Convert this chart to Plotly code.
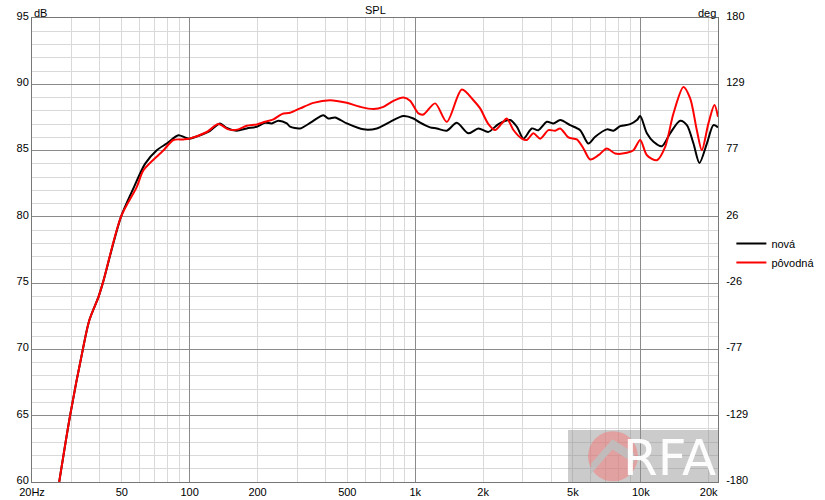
import math
import plotly.graph_objects as go

# ---- data ----
freq_nova = [26.4, 29.5, 33.6, 35.9, 39.4, 41.2, 49.6, 56.7, 63.4, 71.5, 79.1, 89.1, 95.4, 99.7,
             111.2, 123.1, 136.4, 146.0, 161.7, 179.2, 198.4, 216.0, 231.2, 247.3, 269.6, 278.8,
             308.8, 348.0, 391.6, 412.1, 441.3, 497.1, 589.1, 675.6, 773.9, 886.6, 981.9, 1051.6,
             1164.1, 1246.8, 1380.4, 1529.0, 1721.3, 1906.7, 2111.2, 2338.6, 2635.4, 2822.1,
             3018.8, 3289.0, 3518.4, 3834.3, 4101.8, 4392.9, 4863.7, 5386.8, 5862, 6280, 7074,
             7567, 8104, 8974, 9614, 9941, 10645, 11386, 12405, 13496, 14946, 16010, 17126,
             18205, 19633, 21003, 22000]
spl_nova = [60.0, 65.0, 70.0, 72.2, 73.95, 75.0, 80.0, 82.26, 84.0, 85.03, 85.53, 86.16, 85.99, 85.9,
            86.16, 86.49, 87.05, 86.7, 86.5, 86.67, 86.8, 87.1, 87.05, 87.25, 87.05, 86.8,
            86.67, 87.17, 87.67, 87.42, 87.5, 87.05, 86.6, 86.67, 87.17, 87.6, 87.42, 87.1,
            86.75, 86.67, 86.5, 87.1, 86.3, 86.67, 86.41, 87.0, 87.3, 86.8,
            85.9, 86.67, 86.54, 87.17, 87.05, 87.3, 86.92, 86.54, 85.53, 86.04, 86.6,
            86.5, 86.84, 86.99, 87.3, 87.6, 86.3, 85.66, 85.33, 86.3, 87.25, 86.92, 85.53,
            84.07, 85.53, 86.92, 86.75]

freq_povodna = [26.4, 29.5, 33.6, 35.9, 39.4, 41.2, 49.6, 58.3, 62.3, 72.6, 76.4, 84.7, 93.8, 99.7,
                119.1, 134.1, 148.5, 164.4, 179.2, 198.4, 216.0, 235.1, 256.2, 278.8, 308.8,
                353.6, 419.2, 497.1, 569.5, 652.8, 722.8, 800.7, 886.6, 949.1, 1033.6, 1087.8,
                1225.7, 1380.4, 1608.9, 1811.6, 1940.3, 2111.2, 2261.3, 2421.2, 2548.3, 2725.5,
                2969.6, 3125, 3342, 3580, 3897, 4172, 4393, 4780, 5207, 5570, 5965, 6496, 7074,
                7700, 8677, 9283, 9941, 10645, 11787, 12830, 13960, 15460, 16560, 17726, 18652,
                19957, 21215, 22000]
spl_povodna = [60.0, 65.0, 70.0, 72.2, 73.95, 75.0, 80.0, 82.26, 83.5, 84.65, 85.0, 85.8, 85.84, 85.9,
               86.4, 87.0, 86.6, 86.6, 86.87, 86.97, 87.17, 87.35, 87.75, 87.85, 88.18,
               88.6, 88.8, 88.6, 88.3, 88.13, 88.3, 88.75, 89.0, 88.75, 87.8, 87.72,
               88.56, 87.17, 89.6, 88.8, 88.18, 87.0, 86.55, 87.05, 87.42, 86.55,
               85.9, 85.8, 86.3, 85.9, 86.54, 86.5, 86.67, 85.99, 85.84, 85.16, 84.33, 84.65, 85.16,
               84.78, 84.83, 85.03, 85.8, 84.65, 84.27, 85.28, 87.8, 89.8, 88.93, 86.54, 85.03,
               87.05, 88.43, 87.55]

x_tickvals = [20, 50, 100, 200, 500, 1000, 2000, 5000, 10000, 20000]
x_ticktext = ["20Hz", "50", "100", "200", "500", "1k", "2k", "5k", "10k", "20k"]
x_major_grid = [100, 1000, 10000]
x_minor_grid = [m * d for d in (10, 100, 1000, 10000) for m in range(2, 10) if 20 <= m * d <= 22000]
y_tickvals = [60, 65, 70, 75, 80, 85, 90, 95]
deg_tickvals = [-180 + k * 360 / 7 for k in range(8)]
deg_ticktext = ["-180", "-129", "-77", "-26", "26", "77", "129", "180"]

FONT = "Liberation Sans"
MAJOR = "#8a8a8a"
MINOR = "#d9d9d9"

fig = go.Figure()
fig.add_trace(go.Scatter(x=freq_nova, y=spl_nova, name="nová", mode="lines",
                         line=dict(color="#000000", width=2, shape="spline", smoothing=0.8)))
fig.add_trace(go.Scatter(x=freq_povodna, y=spl_povodna, name="pôvodná", mode="lines",
                         line=dict(color="#ff0000", width=2, shape="spline", smoothing=0.8)))
# helper trace that carries the overlay axes (dark decade grid + phase axis)
fig.add_trace(go.Scatter(x=[], y=[], xaxis="x2", yaxis="y2", showlegend=False, hoverinfo="skip"))

xr = [math.log10(20), math.log10(22000)]

fig.update_layout(
    width=825, height=500,
    margin=dict(l=32, r=107, t=18, b=18, autoexpand=False),
    paper_bgcolor="white", plot_bgcolor="white",
    font=dict(family=FONT, size=11, color="#000000"),
    showlegend=True,
    legend=dict(x=1.0195, xanchor="left", y=0.545, yanchor="top",
                bgcolor="rgba(0,0,0,0)", font=dict(size=11), itemwidth=30,
                tracegroupgap=0),
    xaxis=dict(type="log", range=xr, tickmode="array", tickvals=x_tickvals, ticktext=x_ticktext,
               showgrid=False, zeroline=False, ticks="", showline=True, mirror=True,
               linecolor="#777777", linewidth=1, automargin=False,
               minor=dict(tickmode="array", tickvals=x_minor_grid, showgrid=True,
                          gridcolor=MINOR, gridwidth=1, ticks="")),
    xaxis2=dict(type="log", range=xr, overlaying="x", tickmode="array", tickvals=x_major_grid,
                showticklabels=False, showgrid=True, gridcolor=MAJOR, gridwidth=1,
                zeroline=False, ticks="", showline=False, side="bottom", automargin=False),
    yaxis=dict(range=[60, 95], tickmode="array", tickvals=y_tickvals, ticklabelshift=-2,
               showgrid=True, gridcolor=MAJOR, gridwidth=1, zeroline=False, ticks="",
               showline=True, mirror=True, linecolor="#777777", linewidth=1, automargin=False,
               minor=dict(dtick=1, showgrid=True, gridcolor=MINOR, gridwidth=1, ticks="")),
    yaxis2=dict(range=[-180, 180], overlaying="y", side="right", tickmode="array",
                tickvals=deg_tickvals, ticktext=deg_ticktext, showgrid=False, automargin=False,
                ticklabelshift=-2,
                zeroline=False, ticks="outside", ticklen=5, tickcolor="rgba(0,0,0,0)"),
)

fig.add_annotation(text="SPL", xref="paper", yref="paper", x=0.5, y=1, yanchor="bottom",
                   xanchor="center", showarrow=False, yshift=0, font=dict(size=11))
fig.add_annotation(text="dB", xref="paper", yref="paper", x=0, y=1, yanchor="bottom",
                   xanchor="left", showarrow=False, xshift=0, yshift=-3, font=dict(size=11))
fig.add_annotation(text="deg", xref="paper", yref="paper", x=1, y=1, yanchor="bottom",
                   xanchor="right", showarrow=False, yshift=-3, font=dict(size=11))

# RFA watermark (decoration)
fig.add_shape(type="rect", xref="paper", yref="paper", x0=0.7814, x1=1.0, y0=0.0, y1=0.112,
              fillcolor="rgba(140,140,140,0.45)", line=dict(width=0), layer="above")
fig.add_shape(type="circle", xref="paper", yref="paper", x0=0.8105, x1=0.8833, y0=0.0015, y1=0.1095,
              fillcolor="rgba(255,110,110,0.45)", line=dict(width=0), layer="above")
fig.add_shape(type="path", xref="paper", yref="paper",
              path="M 0.815 0.040 L 0.846 0.092 L 0.878 0.062 L 0.878 0.040 L 0.846 0.070 L 0.815 0.018 Z",
              fillcolor="rgba(190,190,190,0.9)", line=dict(width=0), layer="above")
fig.add_annotation(text="RFA", xref="paper", yref="paper", x=1.0, y=0.052, xanchor="right",
                   yanchor="middle", showarrow=False,
                   font=dict(family="DejaVu Sans", size=50, color="rgba(255,255,255,0.95)"))

# remove the default 8px page margin so the 825x500 figure fills the window exactly
fig.write_html("out.html", config={"displayModeBar": False},
               post_script="document.body.style.margin='0px';")
